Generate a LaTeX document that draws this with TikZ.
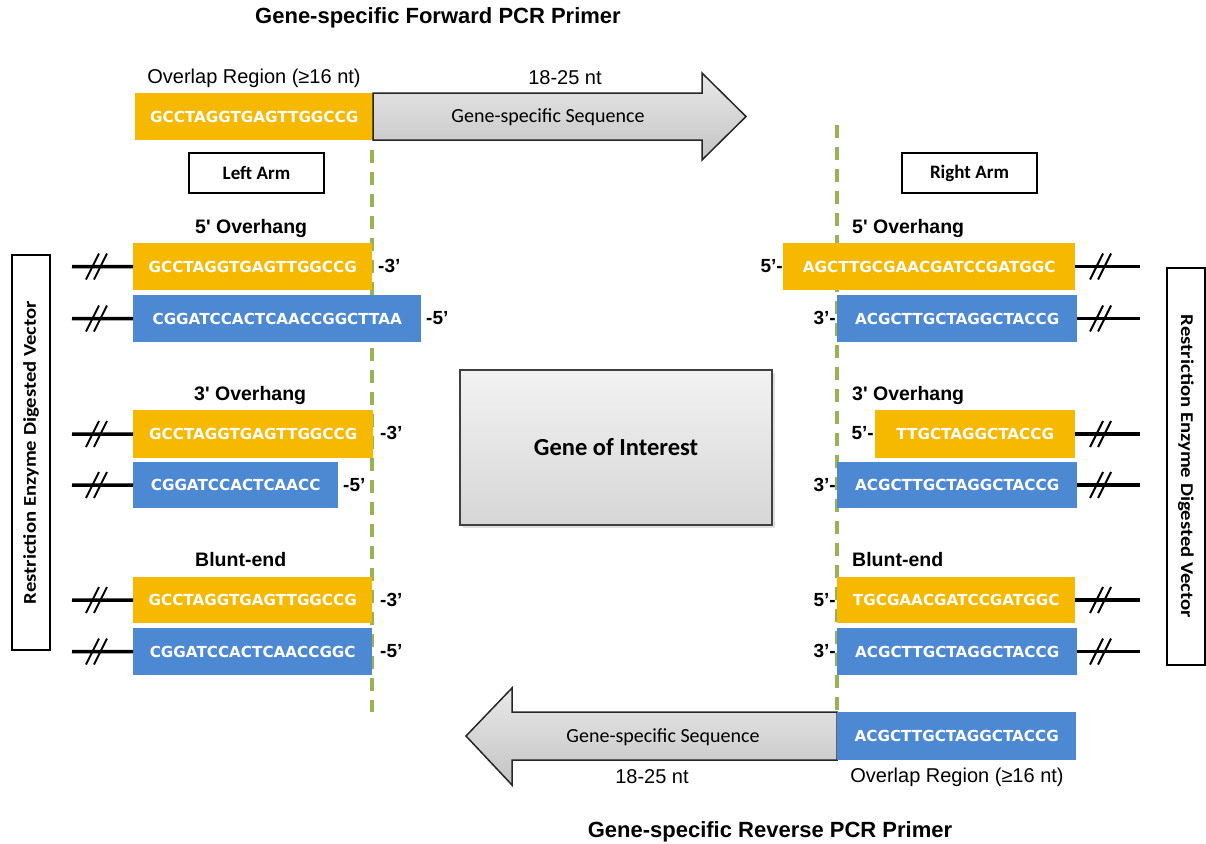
\documentclass[tikz,border=0pt]{standalone}
\usepackage{fontspec}
\setmainfont{Liberation Sans}
\newfontfamily\calfont{Carlito}
\newfontfamily\straightfont{Liberation Sans}[Ligatures=TeXOff]
\newfontfamily\seqfont{DejaVu Sans}
\usetikzlibrary{shadows}
\definecolor{dnaor}{RGB}{247,184,0}
\definecolor{dnabl}{RGB}{77,137,210}
\definecolor{guidegreen}{RGB}{150,180,85}
\definecolor{arrowtop}{RGB}{232,232,232}
\definecolor{arrowbot}{RGB}{196,196,196}
\tikzset{
  seqbox/.style={rectangle, inner sep=0pt, anchor=north west, text=white,
    font=\seqfont\fontsize{15.2}{17}\selectfont\bfseries},
  orbox/.style={seqbox, fill=dnaor},
  blbox/.style={seqbox, fill=dnabl},
  endlab/.style={inner sep=0pt, font=\fontsize{19}{21}\selectfont\bfseries},
  headlab/.style={inner sep=0pt, anchor=west, font=\straightfont\fontsize{19.5}{21}\selectfont\bfseries},
  plainlab/.style={inner sep=0pt, font=\fontsize{20}{22}\selectfont},
  titlelab/.style={inner sep=0pt, font=\fontsize{22}{24}\selectfont\bfseries},
  armbox/.style={draw, line width=2.8pt, minimum width=135pt, minimum height=40pt,
    inner sep=0pt, font=\calfont\fontsize{19}{21}\selectfont\bfseries},
  vecbox/.style={draw, line width=2.8pt, minimum height=38pt, inner sep=0pt,
    font=\calfont\fontsize{18}{20}\selectfont\bfseries},
  stub/.style={line width=3.5pt},
  slashmark/.style={line width=2pt},
  guide/.style={guidegreen, line width=4.5pt, dash pattern=on 13pt off 9pt},
  grayarrow/.style={top color=arrowtop, bottom color=arrowbot, draw=black!85, line width=1.5pt, line join=miter},
  seqtext/.style={inner sep=0pt, font=\calfont\fontsize{20}{22}\selectfont}
}
\newcommand{\brkmark}[2]{%
  \draw[slashmark] (#1-8,#2+13) -- (#1+5,#2-13);
  \draw[slashmark] (#1,#2+13) -- (#1+13,#2-13);}
\begin{document}
\begin{tikzpicture}[x=1pt,y=-1pt]
\useasboundingbox (0,0) rectangle (1206,843);

% guide lines
\coordinate (gl1) at (372,150);
\coordinate (gl2) at (372,712);
\coordinate (gr1) at (837,125);
\coordinate (gr2) at (837,712);
\draw[guide] (gl1) -- (gl2);
\draw[guide] (gr1) -- (gr2);

% titles
\node[titlelab] (ftitle) at (438,18) {Gene-specific Forward PCR Primer};
\node[titlelab] (rtitle) at (770,832) {Gene-specific Reverse PCR Primer};

% forward primer
\node[plainlab] (fovl) at (254,78) {Overlap Region (≥16 nt)};
\node[plainlab] (flen) at (565,78) {18-25 nt};
\node[orbox, minimum width=238pt, minimum height=47pt] (F) at (135,93) {GCCTAGGTGAGTTGGCCG};
\path[grayarrow] (373,93) -- (702,93) -- (702,73) -- (746,116.5) -- (702,160) -- (702,140) -- (373,140) -- cycle;
\node[seqtext] (fseq) at (548,117) {Gene-specific Sequence};

% reverse primer
\path[grayarrow] (837,712) -- (512,712) -- (512,688) -- (466,736) -- (512,785) -- (512,760) -- (837,760) -- cycle;
\node[blbox, minimum width=239pt, minimum height=48pt] (B) at (837,712) {ACGCTTGCTAGGCTACCG};
\node[seqtext] (rseq) at (663,737) {Gene-specific Sequence};
\node[plainlab] (rlen) at (652,777) {18-25 nt};
\node[plainlab] (rovl) at (957,777) {Overlap Region (≥16 nt)};

% arm boxes
\node[armbox] (larm) at (256.5,173) {Left Arm};
\node[armbox] (rarm) at (969.5,173) {Right Arm};

% vector boxes
\node[vecbox, minimum width=395pt, rotate=90] (lvec) at (31,452.5) {\scalebox{1.15}[1]{Restriction Enzyme Digested Vector}};
\node[vecbox, minimum width=397pt, rotate=-90] (rvec) at (1186,466.5) {\scalebox{1.15}[1]{Restriction Enzyme Digested Vector}};

% gene of interest
\node[draw=black!75, line width=1.5pt, top color=gray!10, bottom color=gray!32,
  minimum width=312pt, minimum height=155pt, drop shadow={opacity=0.25},
  font=\calfont\fontsize{24.5}{26}\selectfont\bfseries] (goi) at (616,447.5) {Gene of Interest};

% ---------- left arm ----------
\node[headlab] (lh1) at (195,228) {5' Overhang};
\node[orbox, minimum width=239pt, minimum height=47pt] (L1) at (133,243) {GCCTAGGTGAGTTGGCCG};
\node[blbox, minimum width=288pt, minimum height=47pt] (L2) at (133,295) {CGGATCCACTCAACCGGCTTAA};
\node[endlab, anchor=west] (L1t) at (378,266) {-3’};
\node[endlab, anchor=west] (L2t) at (426,318) {-5’};

\node[headlab] (lh2) at (194,395) {3' Overhang};
\node[orbox, minimum width=240pt, minimum height=48pt] (L3) at (133,410) {GCCTAGGTGAGTTGGCCG};
\node[blbox, minimum width=205pt, minimum height=46pt] (L4) at (133,462) {CGGATCCACTCAACC};
\node[endlab, anchor=west] (L3t) at (380,433) {-3’};
\node[endlab, anchor=west] (L4t) at (343,485) {-5’};

\node[headlab] (lh3) at (195,560) {Blunt-end};
\node[orbox, minimum width=239pt, minimum height=46pt] (L5) at (133,577) {GCCTAGGTGAGTTGGCCG};
\node[blbox, minimum width=239pt, minimum height=47pt] (L6) at (133,628) {CGGATCCACTCAACCGGC};
\node[endlab, anchor=west] (L5t) at (380,600) {-3’};
\node[endlab, anchor=west] (L6t) at (380,651) {-5’};

\foreach \n/\yy in {1/266.5,2/318.5,3/434,4/485,5/600,6/651.5}{
  \coordinate (Ls\n) at (72,\yy);
  \draw[stub] (Ls\n) -- (L\n.west);
  \brkmark{94}{\yy}
}

% ---------- right arm ----------
\node[headlab] (rh1) at (852,228) {5' Overhang};
\node[orbox, minimum width=292pt, minimum height=47pt] (R1) at (783,243) {AGCTTGCGAACGATCCGATGGC};
\node[blbox, minimum width=240pt, minimum height=47pt] (R2) at (837,295) {ACGCTTGCTAGGCTACCG};
\node[endlab, anchor=east] (R1t) at (783,266) {5’-};
\node[endlab, anchor=east] (R2t) at (836,318) {3’-};

\node[headlab] (rh2) at (852,395) {3' Overhang};
\node[orbox, minimum width=200pt, minimum height=48pt] (R3) at (875,410) {TTGCTAGGCTACCG};
\node[blbox, minimum width=240pt, minimum height=46pt] (R4) at (837,462) {ACGCTTGCTAGGCTACCG};
\node[endlab, anchor=east] (R3t) at (874,433) {5’-};
\node[endlab, anchor=east] (R4t) at (836,485) {3’-};

\node[headlab] (rh3) at (852,560) {Blunt-end};
\node[orbox, minimum width=238pt, minimum height=46pt] (R5) at (837,577) {TGCGAACGATCCGATGGC};
\node[blbox, minimum width=240pt, minimum height=47pt] (R6) at (837,628) {ACGCTTGCTAGGCTACCG};
\node[endlab, anchor=east] (R5t) at (836,600) {5’-};
\node[endlab, anchor=east] (R6t) at (836,651) {3’-};

\foreach \n/\yy in {1/266.5,2/318.5,3/434,4/485,5/600,6/651.5}{
  \coordinate (Rs\n) at (1140,\yy);
  \draw[stub] (R\n.east |- Rs\n) -- (Rs\n);
  \brkmark{1098}{\yy}
}
\end{tikzpicture}
\end{document}
